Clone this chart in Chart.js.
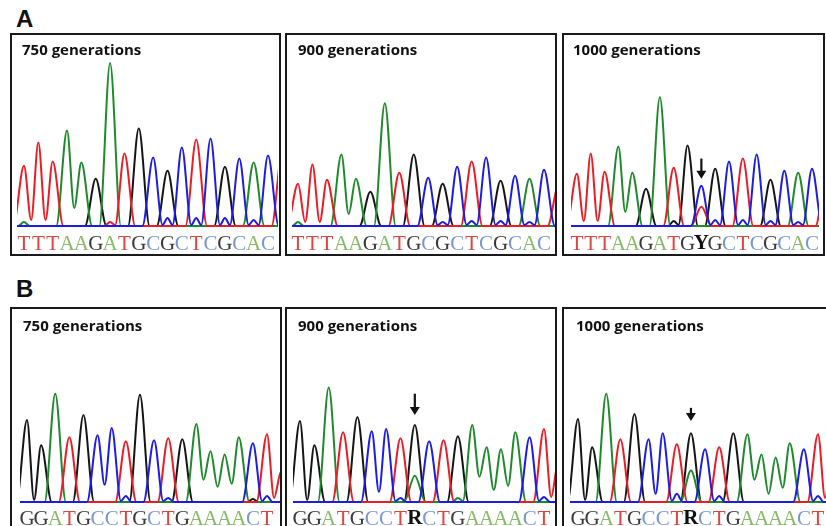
<!DOCTYPE html>
<html>
<head>
<meta charset="utf-8">
<script src="https://cdn.jsdelivr.net/npm/chart.js@4.4.1/dist/chart.umd.min.js"></script>
<style>
  html, body { margin: 0; padding: 0; background: #fff; }
  body { width: 826px; height: 526px; position: relative; overflow: hidden; }
  .tag { position: absolute; font: bold 24px 'Liberation Sans', Arial, sans-serif; line-height: 24px; color: #111; }
  .box { position: absolute; border: 2px solid #1a1a1a; box-sizing: border-box; }
  .ttl { position: absolute; font: bold 15px 'Open Sans', sans-serif; line-height: 15px; color: #111; white-space: nowrap; }
  canvas { position: absolute; }
</style>
</head>
<body>
<div class="tag" style="left:16px;top:7px">A</div>
<div class="tag" style="left:16px;top:277px">B</div>
<script>
// base calls under each trace (the 19th base is cut off by the right border)
const seqA750  = ['T','T','T','A','A','G','A','T','G','C','G','C','T','C','G','C','A','C','T'];
const seqA900  = ['T','T','T','A','A','G','A','T','G','C','G','C','T','C','G','C','A','C','T'];
const seqA1000 = ['T','T','T','A','A','G','A','T','G','Y','G','C','T','C','G','C','A','C','T'];
const seqB750  = ['G','G','A','T','G','C','C','T','G','C','T','G','A','A','A','A','C','T','T'];
const seqB900  = ['G','G','A','T','G','C','C','T','R','C','T','G','A','A','A','A','C','T','T'];
const seqB1000 = ['G','G','A','T','G','C','C','T','R','C','T','G','A','A','A','A','C','T','T'];

// height of the main peak of every base
const hA750  = [60, 83, 64, 95, 63, 47, 162, 72, 97, 68, 55, 78, 86, 87, 59, 67, 63, 70, 75];
const hA900  = [42, 61, 46, 71, 47, 34, 122, 53, 71, 48, 42, 59, 64, 68, 45, 50, 47, 56, 40];
const hA1000 = [52, 72, 54, 79, 53, 37, 128, 58, 80, 40, 57, 64, 67, 71, 46, 55, 53, 57, 45];
const hB750  = [81, 56, 107, 64, 86, 66, 73, 60, 106, 61, 63, 62, 77, 50, 47, 64, 58, 67, 30];
const hB900  = [80, 56, 113, 69, 84, 70, 72, 63, 76, 60, 61, 65, 76, 54, 52, 69, 64, 72, 40];
const hB1000 = [82, 54, 107, 62, 87, 62, 68, 57, 68, 52, 54, 68, 67, 47, 44, 58, 52, 67, 45];

// dip between two neighbouring peaks of the same dye: [right base, height]
const vA750  = [[1, 6], [2, 6], [4, 18]];
const vA900  = [[1, 4], [2, 4], [4, 12]];
const vA1000 = [[1, 5], [2, 5], [4, 14]];
const vB750  = [[1, 2], [6, 17], [13, 22], [14, 15], [15, 18], [18, 4]];
const vB900  = [[1, 2], [6, 10], [13, 25], [14, 12], [15, 16], [18, 5]];
const vB1000 = [[1, 2], [6, 8], [13, 22], [14, 8], [15, 14], [18, 4]];

// secondary peaks: [base, dye, height]
const mA750  = [[0, 'A', 4], [6, 'T', 4], [10, 'C', 8], [12, 'C', 8], [14, 'C', 8], [16, 'C', 6]];
const mA900  = [[0, 'A', 4], [10, 'C', 4], [12, 'C', 5], [14, 'C', 5], [16, 'C', 4]];
const mA1000 = [[9, 'T', 19], [7, 'G', 5], [10, 'C', 6], [12, 'C', 6], [14, 'C', 5], [16, 'C', 4]];
const mB750  = [[7, 'C', 6], [10, 'C', 4], [17, 'C', 6], [16, 'G', 3]];
const mB900  = [[8, 'A', 26], [7, 'C', 4], [11, 'A', 4], [17, 'C', 5]];
const mB1000 = [[8, 'A', 31], [7, 'C', 8], [10, 'C', 6], [17, 'C', 6]];

// arrows over the mixed bases: [base, from, to]
const arrowA1000 = [9, 67, 47];
const arrowB900  = [8, 107, 86];
const arrowB1000 = [8, 93, 80];

/* ---------- styles & layout ---------- */
const DYE = { A: '#1f8a2b', C: '#1c1ce6', G: '#151515', T: '#ec1c24' };
const LETTER = { A: '#86bb68', C: '#7898d4', G: '#3a3a3a', T: '#e0443e' };
const MAIN = { Y: 'C', R: 'G' };   // taller dye of an ambiguous call

// canvasBottom sits a little below the box: the x axis takes ~5px more than font + padding
const rows = {
    A: { top: 33, bottom: 256, chartTop: 60, base: 225, chartBottom: 228, canvasBottom: 259, titleTop: 42 },
    B: { top: 307, bottom: 532, chartTop: 335, base: 500, chartBottom: 503, canvasBottom: 533, titleTop: 318 }
};
const AXIS_EXTRA = 5;

const panels = [
    { row: 'A', l: 10,  r: 281, first: 24,  last: 269, trace: 17,  tx: 22,  title: '750 generations',  seq: seqA750,  h: hA750,  v: vA750,  m: mA750 },
    { row: 'A', l: 285, r: 557, first: 298, last: 544, trace: 292, tx: 298, title: '900 generations',  seq: seqA900,  h: hA900,  v: vA900,  m: mA900 },
    { row: 'A', l: 562, r: 825, first: 577, last: 816, trace: 571, tx: 573, title: '1000 generations', seq: seqA1000, h: hA1000, v: vA1000, m: mA1000, arrow: arrowA1000 },
    { row: 'B', l: 10,  r: 282, first: 27,  last: 267, trace: 20,  tx: 23,  title: '750 generations',  seq: seqB750,  h: hB750,  v: vB750,  m: mB750 },
    { row: 'B', l: 285, r: 557, first: 300, last: 544, trace: 293, tx: 298, title: '900 generations',  seq: seqB900,  h: hB900,  v: vB900,  m: mB900,  arrow: arrowB900 },
    { row: 'B', l: 562, r: 830, first: 578, last: 818, trace: 570, tx: 576, title: '1000 generations', seq: seqB1000, h: hB1000, v: vB1000, m: mB1000, arrow: arrowB1000 }
];

/* ---------- helpers ---------- */
function dyeTraces(seq, heights, valleys, minor, xmin, xmax) {
    const feats = { A: [], C: [], G: [], T: [] };
    seq.forEach((b, i) => feats[MAIN[b] || b].push({ x: i, h: heights[i], w: 0.75, main: true }));
    minor.forEach(([i, d, h]) => feats[d].push({ x: i, h: h, w: h > 12 ? 0.75 : 0.4 }));
    const dip = new Map(valleys);

    return ['C', 'T', 'A', 'G'].map(d => {
        const f = feats[d].sort((a, b) => a.x - b.x);
        const pts = [{ x: xmin - 1, y: 0 }];
        f.forEach((p, k) => {
            const prev = f[k - 1];
            if (!prev || prev.x + prev.w < p.x - p.w) {
                if (prev) pts.push({ x: prev.x + prev.w, y: 0 });
                pts.push({ x: p.x - p.w, y: 0 });
            } else {
                // peaks overlap: join them through a shallow valley
                const vx = prev.x + (p.x - prev.x) * prev.w / (prev.w + p.w);
                const vy = (prev.main && p.main && dip.get(p.x)) || 1;
                pts.push({ x: vx, y: vy });
            }
            pts.push({ x: p.x, y: p.h });
        });
        const last = f[f.length - 1];
        if (last) pts.push({ x: last.x + last.w, y: 0 });
        pts.push({ x: xmax + 1, y: 0 });
        return {
            label: d,
            data: pts,
            borderColor: DYE[d],
            borderWidth: 2,
            pointRadius: 0,
            cubicInterpolationMode: 'monotone',
            fill: false
        };
    });
}

const arrowPlugin = (arrow) => ({
    id: 'callArrow',
    afterDatasetsDraw(chart) {
        if (!arrow) return;
        const { ctx, scales: { x, y } } = chart;
        const px = x.getPixelForValue(arrow[0]);
        const y0 = y.getPixelForValue(arrow[1]);
        const y1 = y.getPixelForValue(arrow[2]);
        ctx.save();
        ctx.strokeStyle = ctx.fillStyle = '#111';
        ctx.lineWidth = 2.2;
        ctx.beginPath();
        ctx.moveTo(px, y0);
        ctx.lineTo(px, y1 - 7);
        ctx.stroke();
        ctx.beginPath();
        ctx.moveTo(px - 5, y1 - 8);
        ctx.lineTo(px + 5, y1 - 8);
        ctx.lineTo(px, y1);
        ctx.closePath();
        ctx.fill();
        ctx.restore();
    }
});

/* ---------- build panels ---------- */
panels.forEach(p => {
    const row = rows[p.row];

    const box = document.createElement('div');
    box.className = 'box';
    Object.assign(box.style, { left: p.l + 'px', top: row.top + 'px', width: (p.r - p.l) + 'px', height: (row.bottom - row.top) + 'px' });
    document.body.appendChild(box);

    const cLeft = p.l + 2, cTop = row.top + 2, cRight = p.r - 2;
    const canvas = document.createElement('canvas');
    canvas.width = cRight - cLeft;
    canvas.height = row.canvasBottom - cTop;
    Object.assign(canvas.style, { left: cLeft + 'px', top: cTop + 'px', width: canvas.width + 'px', height: canvas.height + 'px' });
    document.body.appendChild(canvas);

    const ttl = document.createElement('div');
    ttl.className = 'ttl';
    ttl.textContent = p.title;
    Object.assign(ttl.style, { left: p.tx + 'px', top: row.titleTop + 'px' });
    document.body.appendChild(ttl);

    const step = (p.last - p.first) / 17;
    const xmin = (p.trace - p.first) / step;
    const xmax = (cRight - p.first) / step;

    new Chart(canvas, {
        type: 'line',
        data: { datasets: dyeTraces(p.seq, p.h, p.v, p.m, xmin, xmax) },
        options: {
            responsive: false,
            animation: false,
            devicePixelRatio: 1,
            layout: { padding: { top: row.chartTop - cTop, left: p.trace - cLeft, right: 0, bottom: 0 } },
            plugins: { legend: { display: false }, tooltip: { enabled: false } },
            scales: {
                x: {
                    type: 'linear',
                    min: xmin,
                    max: xmax,
                    grid: { display: false, drawTicks: false },
                    border: { display: false },
                    afterBuildTicks: s => {
                        s.ticks = p.seq.map((b, i) => ({ value: i })).filter(t => t.value >= xmin && t.value <= xmax);
                    },
                    ticks: {
                        autoSkip: false,
                        maxRotation: 0,
                        minRotation: 0,
                        padding: row.canvasBottom - 22 - AXIS_EXTRA - row.chartBottom,
                        callback: v => p.seq[v],
                        color: c => {
                            const b = p.seq[c.tick ? c.tick.value : c.index];
                            return LETTER[b] || '#111';
                        },
                        font: c => {
                            const b = p.seq[c.tick ? c.tick.value : c.index];
                            return { family: "'Liberation Serif', 'Times New Roman', serif", size: 21, lineHeight: '22px', weight: MAIN[b] ? 'bold' : 'normal' };
                        }
                    }
                },
                y: { display: false, min: -(row.chartBottom - row.base), max: row.base - row.chartTop }
            }
        },
        plugins: [arrowPlugin(p.arrow)]
    });
});
</script>
</body>
</html>
